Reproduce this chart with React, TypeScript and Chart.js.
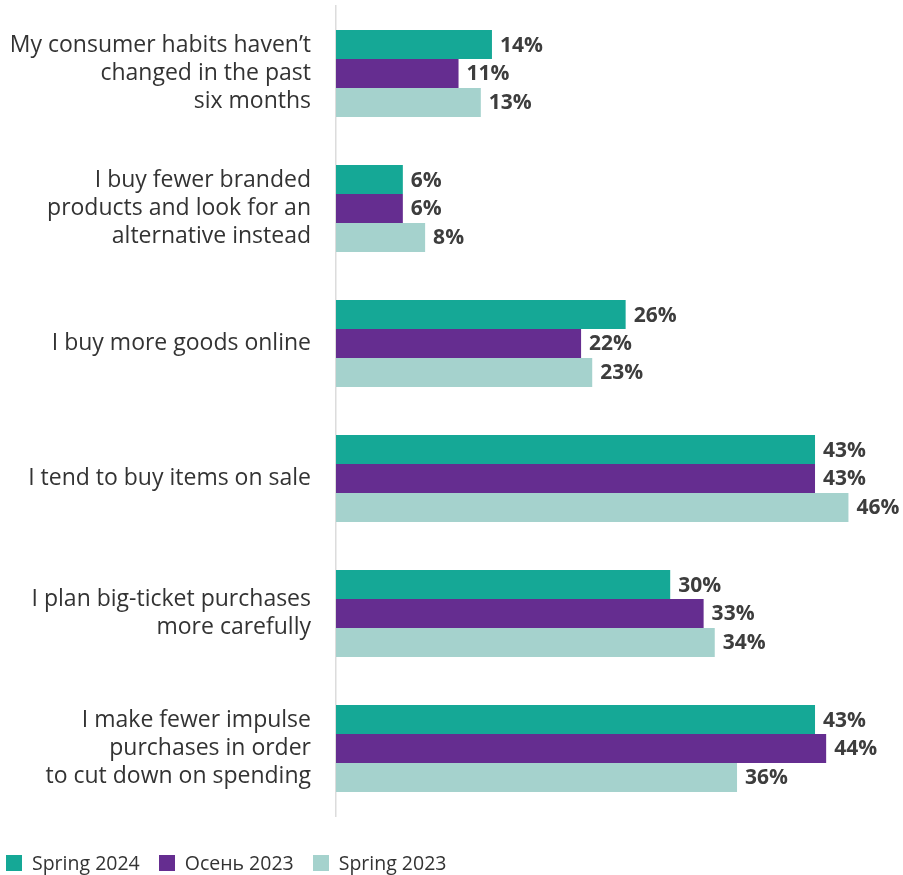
import React, { useEffect, useRef } from "react";
import { Chart, registerables } from "chart.js";

Chart.register(...registerables);

const categories: string[][] = [
  ["My consumer habits haven’t", "changed in the past", "six months"],
  ["I buy fewer branded", "products and look for an", "alternative instead"],
  ["I buy more goods online"],
  ["I tend to buy items on sale"],
  ["I plan big-ticket purchases", "more carefully"],
  ["I make fewer impulse", "purchases in order", "to cut down on spending"],
];

const seriesNames = ["Spring 2024", "Осень 2023", "Spring 2023"];
const spring2024 = [14, 6, 26, 43, 30, 43];
const autumn2023 = [11, 6, 22, 43, 33, 44];
const spring2023 = [13, 8, 23, 46, 34, 36];
const colors = ["#15A896", "#652D90", "#A5D2CD"];

const FONT = "'Open Sans', sans-serif";

const valueLabels = {
  id: "valueLabels",
  afterDatasetsDraw(chart: any) {
    const ctx = chart.ctx;
    ctx.save();
    ctx.font = `bold 21px ${FONT}`;
    ctx.fillStyle = "#3d3d3d";
    ctx.textAlign = "left";
    ctx.textBaseline = "middle";
    chart.data.datasets.forEach((ds: any, i: number) => {
      const meta = chart.getDatasetMeta(i);
      meta.data.forEach((bar: any, j: number) => {
        ctx.fillText(`${ds.data[j]}%`, bar.x + 8, bar.y + 1);
      });
    });
    ctx.restore();
  },
};

export default function App() {
  const ref = useRef<HTMLCanvasElement | null>(null);
  useEffect(() => {
    if (!ref.current) return;
    const chart = new Chart(ref.current, {
      type: "bar",
      data: {
        labels: categories,
        datasets: [spring2024, autumn2023, spring2023].map((d, i) => ({
          label: seriesNames[i],
          data: d,
          backgroundColor: colors[i],
          borderWidth: 0,
          categoryPercentage: 0.644,
          barPercentage: 1,
        })),
      },
      options: {
        indexAxis: "y",
        animation: false,
        responsive: false,
        maintainAspectRatio: false,
        layout: { padding: { top: 6, bottom: 14, right: 10, left: 0 } },
        plugins: {
          legend: { display: false },
          tooltip: { enabled: false },
        },
        scales: {
          x: { display: false, min: 0, max: 50 },
          y: {
            grid: { display: false },
            border: { display: true, color: "#dcdcdc", width: 1.5 },
            ticks: {
              color: "#333333",
              padding: 17,
              font: { family: FONT, size: 23, lineHeight: 1.2 },
            },
            afterFit: (scale: any) => {
              scale.width = 336;
              scale.paddingTop = 0;
              scale.paddingBottom = 0;
            },
          },
        },
      },
      plugins: [valueLabels],
    });
    return () => chart.destroy();
  }, []);

  return (
    <div style={{ position: "fixed", left: 0, top: 0, width: 903, height: 875, background: "#fff" }}>
      <canvas ref={ref} width={903} height={830} style={{ display: "block" }} />
      <div
        style={{
          position: "absolute",
          left: 6,
          top: 849,
          display: "flex",
          alignItems: "center",
          fontFamily: FONT,
          fontSize: 19.5,
          color: "#333",
        }}
      >
        {seriesNames.map((n, i) => (
          <div key={n} style={{ display: "flex", alignItems: "center", marginRight: 19 }}>
            <span style={{ width: 16, height: 16, background: colors[i], display: "inline-block", marginRight: 10 }} />
            <span>{n}</span>
          </div>
        ))}
      </div>
    </div>
  );
}
